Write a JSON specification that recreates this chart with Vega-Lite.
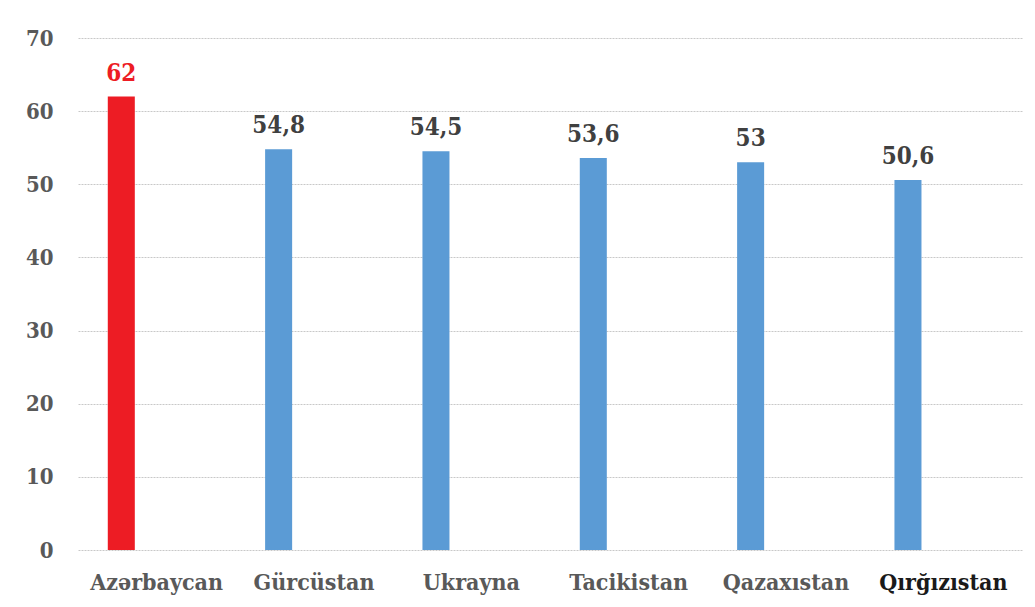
{
  "$schema": "https://vega.github.io/schema/vega-lite/v6.json",
  "width": 944,
  "height": 512,
  "autosize": {"type": "none"},
  "padding": {"left": 78, "top": 38, "right": 13, "bottom": 57},
  "background": "white",
  "config": {
    "view": {"stroke": null},
    "locale": {"number": {"decimal": ",", "thousands": " ", "grouping": [3], "currency": ["", ""]}},
    "font": "DejaVu Serif Condensed"
  },
  "data": {
    "values": [
      {"country": "Azərbaycan", "series": "s1", "value": 62},
      {"country": "Gürcüstan", "series": "s1", "value": 54.8},
      {"country": "Ukrayna", "series": "s1", "value": 54.5},
      {"country": "Tacikistan", "series": "s1", "value": 53.6},
      {"country": "Qazaxıstan", "series": "s1", "value": 53},
      {"country": "Qırğızıstan", "series": "s1", "value": 50.6}
    ]
  },
  "encoding": {
    "x": {
      "field": "country",
      "type": "nominal",
      "sort": null,
      "scale": {"paddingInner": 0, "paddingOuter": 0},
      "axis": {
        "title": null,
        "labelAngle": 0,
        "domain": false,
        "ticks": false,
        "labelFont": "DejaVu Serif Condensed",
        "labelFontWeight": "bold",
        "labelFontSize": 23,
        "labelColor": {"condition": {"test": "datum.value === 'Qırğızıstan'", "value": "#1a1a1a"}, "value": "#595959"},
        "labelPadding": 21
      }
    },
    "xOffset": {
      "field": "series",
      "type": "nominal",
      "scale": {"domain": ["s1", "s2"], "paddingInner": 0.618, "paddingOuter": 0.421}
    },
    "y": {
      "field": "value",
      "type": "quantitative",
      "scale": {"domain": [0, 70], "nice": false},
      "axis": {
        "title": null,
        "values": [0, 10, 20, 30, 40, 50, 60, 70],
        "domain": false,
        "ticks": false,
        "grid": true,
        "gridColor": "#c8c8c8",
        "gridDash": [2, 1],
        "gridWidth": 1,
        "labelFont": "DejaVu Serif Condensed",
        "labelFontWeight": "bold",
        "labelFontSize": 22,
        "labelColor": "#595959",
        "labelPadding": 25
      }
    }
  },
  "layer": [
    {
      "mark": {"type": "bar"},
      "encoding": {
        "color": {"condition": {"test": "datum.country === 'Azərbaycan'", "value": "#ED1C24"}, "value": "#5B9BD5"}
      }
    },
    {
      "mark": {"type": "text", "baseline": "alphabetic", "dy": -16, "font": "DejaVu Serif Condensed", "fontWeight": "bold", "fontSize": 24},
      "encoding": {
        "text": {"field": "value", "type": "quantitative", "format": "~g"},
        "color": {"condition": {"test": "datum.country === 'Azərbaycan'", "value": "#ED1C24"}, "value": "#404040"}
      }
    }
  ]
}
